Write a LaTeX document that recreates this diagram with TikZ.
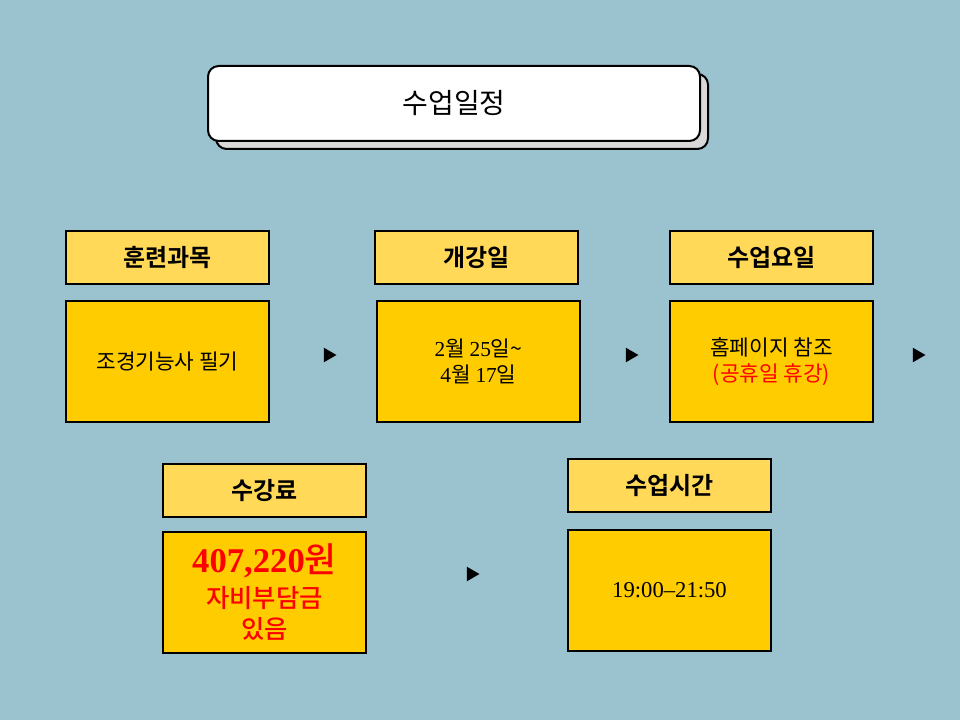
\documentclass[tikz,border=0pt]{standalone}
\usepackage{fontspec}
\setmainfont{Liberation Serif}
\newfontfamily\kr{Noto Sans CJK KR}
\newfontfamily\krm{Noto Sans CJK KR Medium}
\newfontfamily\krb{Noto Sans CJK KR Bold}
\usetikzlibrary{shapes.geometric}
\definecolor{bg}{HTML}{9BC2CF}
\definecolor{hy}{HTML}{FFD957}
\definecolor{by}{HTML}{FFCC00}
\definecolor{rd}{HTML}{FF0000}
\begin{document}
\begin{tikzpicture}[x=0.75pt,y=-0.75pt,
  hdr/.style={draw=black,line width=1.5pt,fill=hy,minimum width=152pt,minimum height=39.75pt,inner sep=0pt,font=\krb\fontsize{18}{20}\selectfont},
  bdy/.style={draw=black,line width=1.5pt,fill=by,minimum width=152pt,minimum height=90.75pt,inner sep=0pt,align=center,font=\kr\fontsize{16}{20}\selectfont},
  redtxt/.style={text=rd,inner sep=0pt,font=\krm\fontsize{19}{22}\selectfont},
  tri/.style={isosceles triangle,fill=black,inner sep=0pt,minimum width=11pt,minimum height=9pt,isosceles triangle apex angle=60}]
\fill[bg] (0,0) rectangle (960,720);
\useasboundingbox (0,0) rectangle (960,720);
\draw[line width=1.5pt,fill=black!15,rounded corners=8pt] (216,74) rectangle (708,149);
\node[draw,line width=1.5pt,fill=white,rounded corners=8pt,minimum width=369pt,minimum height=56.25pt,font=\kr\fontsize{21}{24}\selectfont] (title) at (454,103.5) {수업일정};
\node[hdr] (h1) at (167.5,257.5) {훈련과목};
\node[bdy] (b1) at (167.5,361.5) {조경기능사 필기};
\node[hdr] (h2) at (476.5,257.5) {개강일};
\node[bdy] (b2) at (478.5,361.5) {{\rmfamily 2}월 {\rmfamily 25}일\textasciitilde\\{\rmfamily 4}월 {\rmfamily 17}일};
\node[hdr] (h3) at (771.5,258) {수업요일};
\node[bdy] (b3) at (771.5,361.5) {홈페이지 참조\\\textcolor{rd}{(공휴일 휴강)}};
\node[hdr] (h4) at (264.5,490.5) {수강료};
\node[bdy] (b4) at (264.5,592.5) {};
\node[redtxt,font=\krm\fontsize{26}{28}\selectfont] (p1) at (264.5,561) {{\rmfamily\bfseries 407,220}원};
\node[redtxt] (p2) at (264.5,598) {자비부담금};
\node[redtxt] (p3) at (264.5,629) {있음};
\node[hdr] (h5) at (669.5,485.5) {수업시간};
\node[bdy,font=\rmfamily\fontsize{17}{20}\selectfont] (b5) at (669.5,590.5) {19:00\textendash 21:50};
\node[tri] (t1) at (328,355) {};
\node[tri] (t2) at (630,355) {};
\node[tri] (t3) at (917,355) {};
\node[tri] (t4) at (471,574) {};
\end{tikzpicture}
\end{document}
